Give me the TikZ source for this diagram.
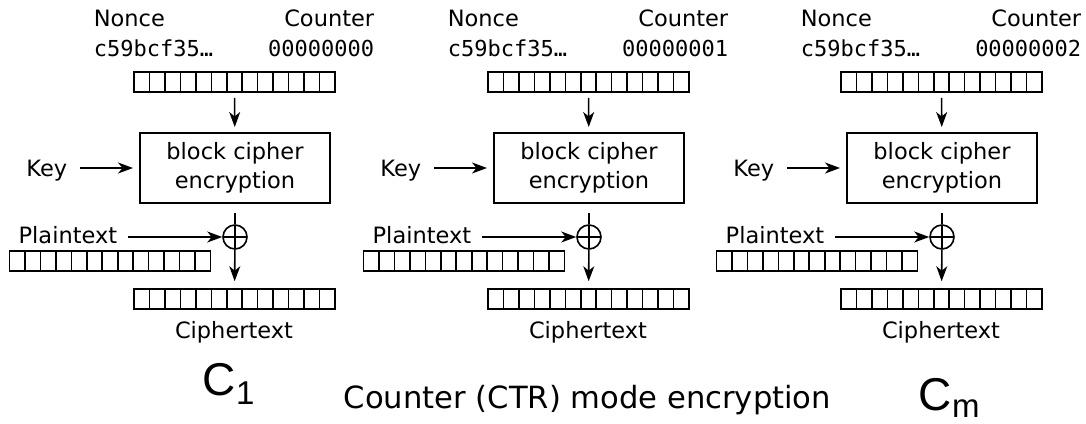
\documentclass[tikz,border=0pt]{standalone}
\usepackage{fontspec}
\setmainfont{DejaVu Sans}
\setmonofont{DejaVu Sans Mono}
\newfontfamily\capfont{Liberation Sans}
\usetikzlibrary{positioning, arrows.meta, calc}

\begin{document}
\begin{tikzpicture}[ x = 1pt, y = -1pt
                     , line width = 1.6pt
                     , font = \fontsize{22.5}{29}\selectfont
                     , >={Stealth[width=11pt, length=15pt, inset=4.5pt]}
                     , every node/.style = {inner sep = 0pt}
                     , hexfont/.style = {font = \fontsize{22}{29}\selectfont\ttfamily}
                     , cellrow/.style = { draw
                                        , minimum width = 201pt
                                        , minimum height = 20pt
                                        , path picture = {
                                            \foreach \k in {1,...,12}
                                              \draw ([xshift=\k*15.46pt]path picture bounding box.north west)
                                                 -- ([xshift=\k*15.46pt]path picture bounding box.south west);
                                          } }
                     , cipherbox/.style = { draw
                                          , line width = 2pt
                                          , minimum width = 190pt
                                          , minimum height = 70pt
                                          , align = center }
                     , xorcirc/.style = { circle
                                        , draw
                                        , minimum size = 24pt
                                        , path picture = {
                                            \draw (path picture bounding box.north) -- (path picture bounding box.south)
                                                  (path picture bounding box.west) -- (path picture bounding box.east);
                                          } }
                     ]

  \useasboundingbox (0,0) rectangle (1086,423);

  \foreach \i/\cnt/\dx in {1/00000000/0, 2/00000001/354, 3/00000002/707} {
    \begin{scope}[xshift = \dx]
      % inputs
      \node (nonce\i) [anchor = base west] at (93,27) {Nonce};
      \node (count\i) [anchor = base east] at (375,27) {Counter};
      \node (nv\i) [hexfont, anchor = base west] at (93,56) {c59bcf35…};
      \node (cv\i) [hexfont, anchor = base east] at (375,56) {\cnt};
      \node (cb\i) [cellrow] at (234.5,82) {};

      % cipher
      \node (enc\i) [cipherbox] at (235,168) {block cipher\\encryption};
      \node (key\i) [anchor = base east] at (68,176) {Key};
      \node (xor\i) [xorcirc] at (235,237) {};
      \node (pt\i) [anchor = base east] at (118,243) {Plaintext};
      \node (ptb\i) [cellrow] at (110,261) {};

      % output
      \node (ctb\i) [cellrow] at (234.5,299) {};
      \node (ct\i) [anchor = base] at (234,338) {Ciphertext};

      \draw[->, shorten <=5pt, shorten >=5pt] (cb\i) -- (enc\i);
      \draw[->, shorten <=12pt, shorten >=6pt] (key\i.east |- enc\i) -- (enc\i.west);
      \draw[shorten <=9pt] (enc\i) -- (xor\i);
      \draw[->, shorten <=10pt] (pt\i.east |- xor\i) -- (xor\i.west);
      \draw[->, shorten >=7pt] (xor\i) -- (ctb\i);
    \end{scope}
  }

  \node (title) [anchor = base, font = \fontsize{30.6}{36}\selectfont] at (587.5,408)
    {Counter (CTR) mode encryption};
  \node (cfirst) [anchor = base west, font = \fontsize{46}{50}\capfont] at (202,395)
    {C\raisebox{-9pt}{\fontsize{33}{36}\selectfont 1}};
  \node (clast) [anchor = base west, font = \fontsize{46}{50}\capfont] at (918,410)
    {C\raisebox{-7pt}{\fontsize{33}{36}\selectfont m}};

\end{tikzpicture}
\end{document}
